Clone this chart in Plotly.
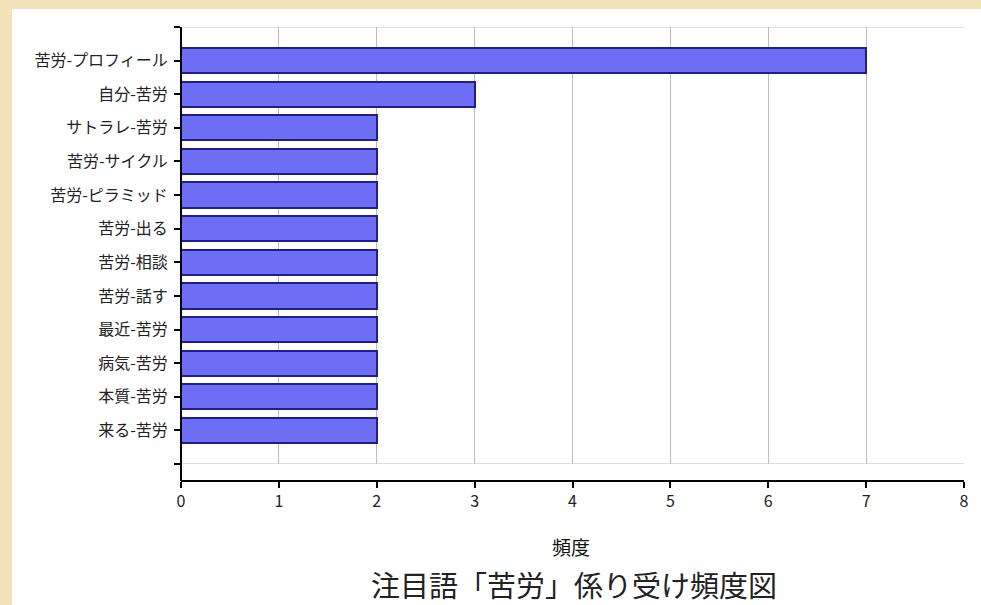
import plotly.graph_objects as go

categories = ["苦労-プロフィール", "自分-苦労", "サトラレ-苦労", "苦労-サイクル", "苦労-ピラミッド",
              "苦労-出る", "苦労-相談", "苦労-話す", "最近-苦労", "病気-苦労", "本質-苦労", "来る-苦労"]
values = [7, 3, 2, 2, 2, 2, 2, 2, 2, 2, 2, 2]
x_ticks = [0, 1, 2, 3, 4, 5, 6, 7, 8]

FONT = "Noto Sans CJK JP"
W, H = 981, 605
L, R, T, B = 181, 17, 27, 124
pw, ph = W - L - R, H - T - B
plot_bottom_px = 464
axis_px = H - B  # 481


def px_y(py):
    """pixel row -> paper y"""
    return (axis_px - py) / ph


def px_x(px):
    return (px - L) / pw


idx = list(range(len(categories)))

fig = go.Figure(go.Bar(
    x=values, y=idx, orientation="h", width=0.75,
    marker=dict(color="#6E6EF5", line=dict(color="#1E1E8C", width=2)),
))

ydom0 = (axis_px - plot_bottom_px) / ph

shapes = [
    dict(type="rect", xref="paper", yref="paper", layer="below",
         x0=px_x(12), x1=px_x(W + 5), y0=px_y(H + 5), y1=px_y(9),
         fillcolor="white", line=dict(width=0)),
    dict(type="line", xref="x domain", yref="y", x0=0, x1=1, y0=-1, y1=-1,
         line=dict(color="#BDBDBD", width=1), layer="below"),
    dict(type="line", xref="x domain", yref="y", x0=0, x1=1, y0=12, y1=12,
         line=dict(color="#BDBDBD", width=1), layer="below"),
    dict(type="line", xref="paper", yref="paper", x0=0, x1=0, y0=0, y1=1,
         line=dict(color="black", width=2)),
]

fig.update_layout(
    width=W, height=H,
    margin=dict(l=L, r=R, t=T, b=B),
    paper_bgcolor="#F2E2B8",
    plot_bgcolor="white",
    showlegend=False,
    bargap=0,
    shapes=shapes,
    xaxis=dict(
        range=[0, 8], tickvals=x_ticks, ticktext=[str(v) for v in x_ticks],
        showgrid=True, gridcolor="#BDBDBD", gridwidth=1, zeroline=False,
        showline=True, linecolor="black", linewidth=2,
        ticks="outside", ticklen=6, tickwidth=2, tickcolor="black",
        anchor="free", position=0,
        tickfont=dict(family=FONT, size=16, color="#222222"),
    ),
    yaxis=dict(
        domain=[ydom0, 1],
        range=[12, -1],
        tickvals=[-1] + idx + [12], ticktext=[""] + categories + [""],
        showgrid=False, zeroline=False, showline=False,
        ticks="outside", ticklen=6, tickwidth=2, tickcolor="black",
        ticklabelstandoff=3,
        tickfont=dict(family=FONT, size=16, color="#222222"),
    ),
    annotations=[
        dict(text="頻度", xref="paper", yref="paper",
             x=px_x(571), y=px_y(546), xanchor="center", yanchor="middle",
             showarrow=False, font=dict(family=FONT, size=19, color="#111111")),
        dict(text="注目語「苦労」係り受け頻度図", xref="paper", yref="paper",
             x=px_x(574), y=px_y(584), xanchor="center", yanchor="middle",
             showarrow=False, font=dict(family=FONT, size=29, color="#222222")),
    ],
)

fig.write_html("out.html", config={"displayModeBar": False},
               post_script="document.body.style.margin='0';document.body.style.background='#F2E2B8';")
